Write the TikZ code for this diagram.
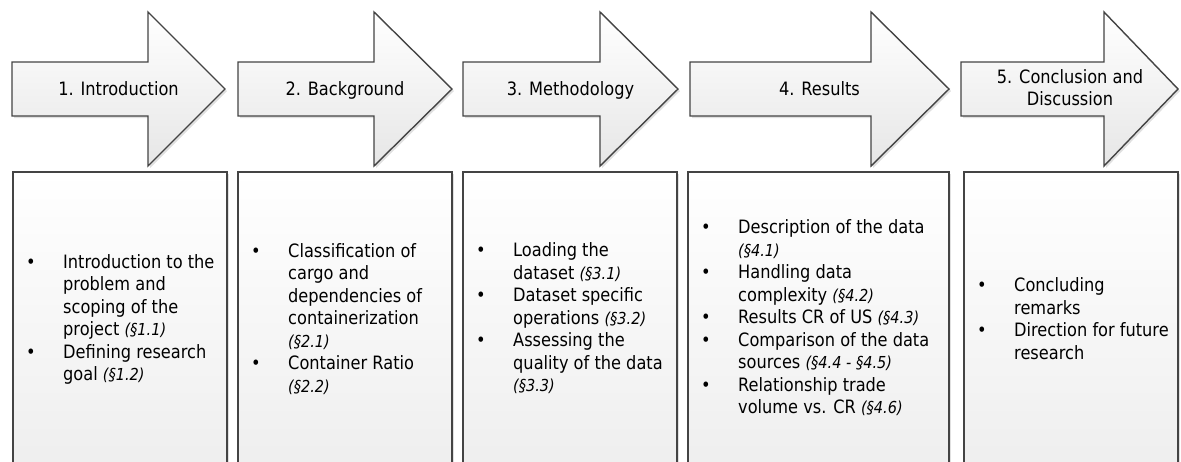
\documentclass[tikz,border=0pt]{standalone}
\usepackage{fontspec}
\setmainfont{DejaVu Sans}[FakeStretch=0.88]
\usetikzlibrary{shadows}
\definecolor{edgecol}{HTML}{444444}
\definecolor{shadebot}{HTML}{E6E6E6}
\definecolor{boxbot}{HTML}{EDEDED}
\newcommand{\secref}[1]{{\fontsize{16.5}{22.5}\selectfont\itshape #1}}
\newcommand{\blt}{\textbullet}
\tikzset{
  arrowshape/.style={draw=edgecol, line width=1.4pt, line join=miter,
    top color=white, bottom color=shadebot,
    drop shadow={shadow xshift=2pt, shadow yshift=-2pt, fill=black, opacity=0.12}},
  boxshape/.style={draw=edgecol, line width=1.4pt,
    top color=white, bottom color=boxbot,
    drop shadow={shadow xshift=2pt, shadow yshift=-2pt, fill=black, opacity=0.12}},
  headlabel/.style={inner sep=0pt, anchor=base, font=\fontsize{18.4}{22.5}\selectfont, text=black},
  listtext/.style={inner sep=0pt, anchor=base west, font=\fontsize{18.4}{22.5}\selectfont, text=black},
}
\begin{document}
\begin{tikzpicture}[x=1pt, y=-1pt]
\useasboundingbox (0,0) rectangle (1181,461);
\clip (0,0) rectangle (1181,461);
% arrows
\foreach \L/\H/\T in {12/148/225, 238/374/452, 463/600/678, 690/871/949, 961/1104/1178}{
  \path[arrowshape] (\L,62) -- (\H,62) -- (\H,12) -- (\T,89) -- (\H,166) -- (\H,116) -- (\L,116) -- cycle;
}
% boxes
\foreach \a/\b in {13/227, 238/452, 463/677, 688/949, 964/1178}{
  \path[boxshape] (\a,172) rectangle (\b,490);
}
% arrow labels
\node[headlabel] (h1) at (118.5,95) {1. Introduction};
\node[headlabel] (h2) at (345,95) {2. Background};
\node[headlabel] (h3) at (570.5,95) {3. Methodology};
\node[headlabel] (h4) at (819.5,95) {4. Results};
\node[headlabel] (h5) at (1070,83) {\begin{tabular}[t]{@{}c@{}}5. Conclusion and\\Discussion\end{tabular}};
% box texts
\node[listtext] (t1) at (26,268) {\begin{tabular}[t]{@{}p{37pt}@{}l@{}}
\blt & Introduction to the\\
 & problem and\\
 & scoping of the\\
 & project \secref{(§1.1)}\\
\blt & Defining research\\
 & goal \secref{(§1.2)}
\end{tabular}};
\node[listtext] (t2) at (251,257) {\begin{tabular}[t]{@{}p{37pt}@{}l@{}}
\blt & Classification of\\
 & cargo and\\
 & dependencies of\\
 & containerization\\
 & \secref{(§2.1)}\\
\blt & Container Ratio\\
 & \secref{(§2.2)}
\end{tabular}};
\node[listtext] (t3) at (476,256.5) {\begin{tabular}[t]{@{}p{37pt}@{}l@{}}
\blt & Loading the\\
 & dataset \secref{(§3.1)}\\
\blt & Dataset specific\\
 & operations \secref{(§3.2)}\\
\blt & Assessing the\\
 & quality of the data\\
 & \secref{(§3.3)}
\end{tabular}};
\node[listtext] (t4) at (701,233.5) {\begin{tabular}[t]{@{}p{37pt}@{}l@{}}
\blt & Description of the data\\
 & \secref{(§4.1)}\\
\blt & Handling data\\
 & complexity \secref{(§4.2)}\\
\blt & Results CR of US \secref{(§4.3)}\\
\blt & Comparison of the data\\
 & sources \secref{(§4.4 - §4.5)}\\
\blt & Relationship trade\\
 & volume vs. CR \secref{(§4.6)}
\end{tabular}};
\node[listtext] (t5) at (977,291.5) {\begin{tabular}[t]{@{}p{37pt}@{}l@{}}
\blt & Concluding\\
 & remarks\\
\blt & Direction for future\\
 & research
\end{tabular}};
\end{tikzpicture}
\end{document}
